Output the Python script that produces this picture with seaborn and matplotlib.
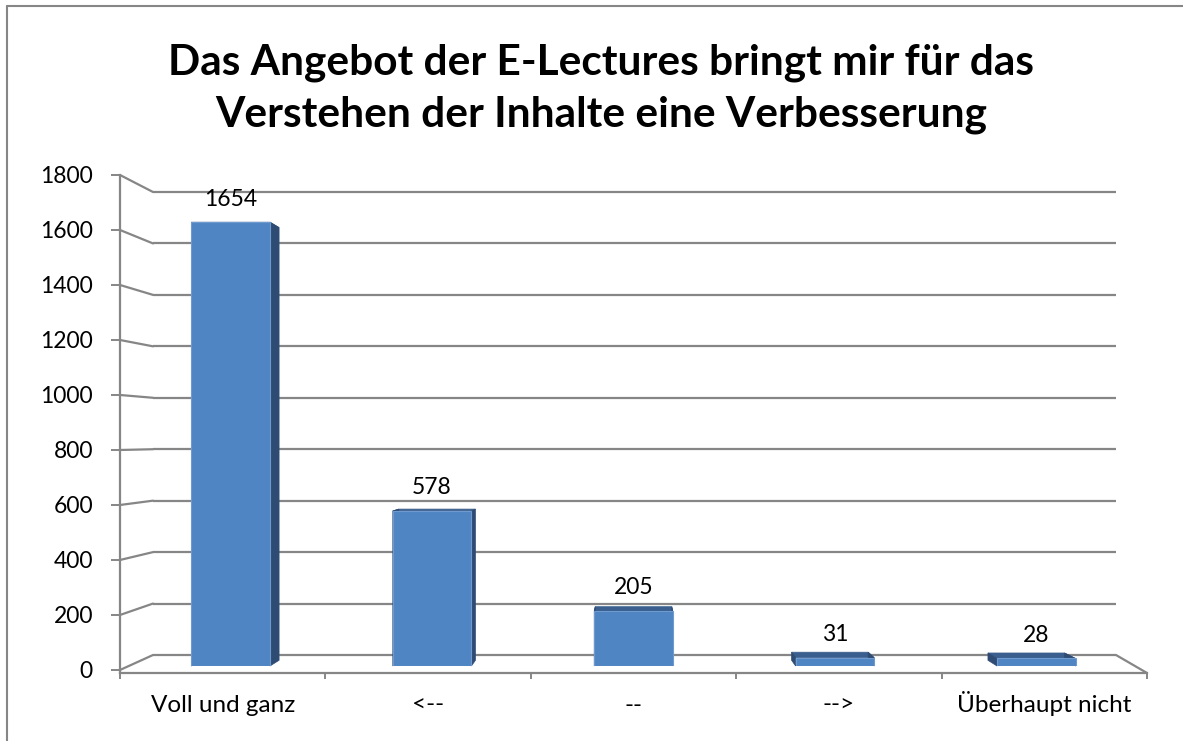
import matplotlib
matplotlib.use("Agg")
import matplotlib.pyplot as plt
import seaborn as sns
import numpy as np
from matplotlib.patches import Polygon
from matplotlib.lines import Line2D

# ---------------- data ----------------
categories = ["Voll und ganz", "<--", "--", "-->", "Überhaupt nicht"]
values = [1654, 578, 205, 31, 28]
y_ticks = [0, 200, 400, 600, 800, 1000, 1200, 1400, 1600, 1800]
title_lines = ["Das Angebot der E-Lectures bringt mir für das",
               "Verstehen der Inhalte eine Verbesserung"]

# ---------------- style ----------------
W, H, DPI = 1183, 741, 100
GRID = "#868686"
FACE = "#5085C3"
EDGE = "#6E9AD0"
TOP = "#3A5F8E"
SIDE = "#2E4B73"
VP = (634, 438)      # vanishing point (image px)
DEPTH = 0.025

sns.set_theme(style="white")
plt.rcParams['font.family'] = ['Lato', 'DejaVu Sans']

fig = plt.figure(figsize=(W / DPI, H / DPI), dpi=DPI)
fig.patch.set_facecolor("white")


def px_axes(x0, y_top, x1, y_bot):
    return fig.add_axes([x0 / W, 1 - y_bot / H, (x1 - x0) / W, (y_bot - y_top) / H])


# ---- back wall with gridlines ----
back_ax = px_axes(153, 192, 1116, 655)
back_ax.set_zorder(1)
back_ax.set_xlim(0, 1)
back_ax.set_ylim(0, 1800)
back_ax.set_xticks([])
back_ax.set_yticks([])
for s in back_ax.spines.values():
    s.set_visible(False)
back_ax.patch.set_alpha(0)
back_ax.hlines(y_ticks, 0, 1, colors=GRID, lw=1.6, clip_on=False)

# ---- front axis (ticks, labels, floor) ----
front_ax = px_axes(120, 175, 1147, 673)
front_ax.set_zorder(2)
front_ax.patch.set_alpha(0)
front_ax.set_ylim(-11, 1800)
front_ax.set_xlim(-0.5, len(categories) - 0.5)
for side in ["top", "right"]:
    front_ax.spines[side].set_visible(False)
for side in ["left", "bottom"]:
    front_ax.spines[side].set_color(GRID)
    front_ax.spines[side].set_linewidth(1.6)
front_ax.set_yticks(y_ticks)
front_ax.set_yticklabels([str(v) for v in y_ticks])
front_ax.tick_params(axis="y", direction="out", length=6.5, width=1.4, color=GRID,
                     pad=13, labelsize=16.5, labelcolor="black", left=True)
front_ax.set_xticks(range(len(categories)))
front_ax.set_xticklabels(categories)
front_ax.tick_params(axis="x", which="major", length=0, pad=28, labelsize=17.5, labelcolor="black")
for lbl in front_ax.get_xticklabels():
    lbl.set_verticalalignment("baseline")
front_ax.set_xticks(np.arange(-0.5, len(categories)), minor=True)
front_ax.tick_params(axis="x", which="minor", direction="out", length=4, width=1.4,
                     color=GRID, bottom=True)

# connectors from front ticks to back wall
to_disp = lambda ax, pts: ax.transData.transform(pts)
for v in y_ticks:
    a = to_disp(front_ax, [(-0.5, v)])[0]
    b = to_disp(back_ax, [(0, v)])[0]
    fig.add_artist(Line2D([a[0] / W, b[0] / W], [a[1] / H, b[1] / H], color=GRID, lw=1.6,
                          transform=fig.transFigure, zorder=1.5))
a = to_disp(front_ax, [(len(categories) - 0.5, -11)])[0]
b = to_disp(back_ax, [(1, 0)])[0]
fig.add_artist(Line2D([a[0] / W, b[0] / W], [a[1] / H, b[1] / H], color=GRID, lw=1.6,
                      transform=fig.transFigure, zorder=1.5))

# ---- bars ----
bar_ax = px_axes(130, 183, 1137, 666)
bar_ax.set_zorder(3)
bar_ax.patch.set_alpha(0)
sns.barplot(x=categories, y=values, ax=bar_ax, color=FACE, saturation=1, width=0.39,
            edgecolor=EDGE, linewidth=0.8, zorder=3)
bar_ax.set_xlim(-0.5, len(categories) - 0.5)
bar_ax.set_ylim(0, 1800)
bar_ax.axis("off")

vp_disp = np.array([VP[0], H - VP[1]], dtype=float)
inv = bar_ax.transData.inverted()
for p in list(bar_ax.patches):
    x, y, w, h = p.get_x(), p.get_y(), p.get_width(), p.get_height()
    front = bar_ax.transData.transform([(x, y), (x + w, y), (x + w, y + h), (x, y + h)])
    back = front + (vp_disp - front) * DEPTH
    faces = [
        ([front[3], front[2], back[2], back[3]], TOP),   # top
        ([front[1], front[2], back[2], back[1]], SIDE),  # right
        ([front[0], front[3], back[3], back[0]], SIDE),  # left
    ]
    for pts, col in faces:
        bar_ax.add_patch(Polygon(inv.transform(np.array(pts)), closed=True, facecolor=col,
                                 edgecolor=col, lw=0.5, zorder=2, clip_on=False))

bar_ax.bar_label(bar_ax.containers[0], labels=[str(v) for v in values], padding=9,
                 fontsize=16.5, color="black")

# ---- chart border ----
fig.add_artist(Line2D([7 / W, 7 / W], [0, 1 - 6 / H], color=GRID, lw=1.5, transform=fig.transFigure))
fig.add_artist(Line2D([7 / W, 1], [1 - 6 / H, 1 - 6 / H], color=GRID, lw=1.5, transform=fig.transFigure))

# ---- title ----
fig.text(601 / W, 1 - 75 / H, title_lines[0], ha="center", va="baseline",
         fontsize=30.5, fontweight="bold", color="black")
fig.text(601 / W, 1 - 127 / H, title_lines[1], ha="center", va="baseline",
         fontsize=30.5, fontweight="bold", color="black")

fig.savefig("out.png", dpi=DPI, facecolor="white")
